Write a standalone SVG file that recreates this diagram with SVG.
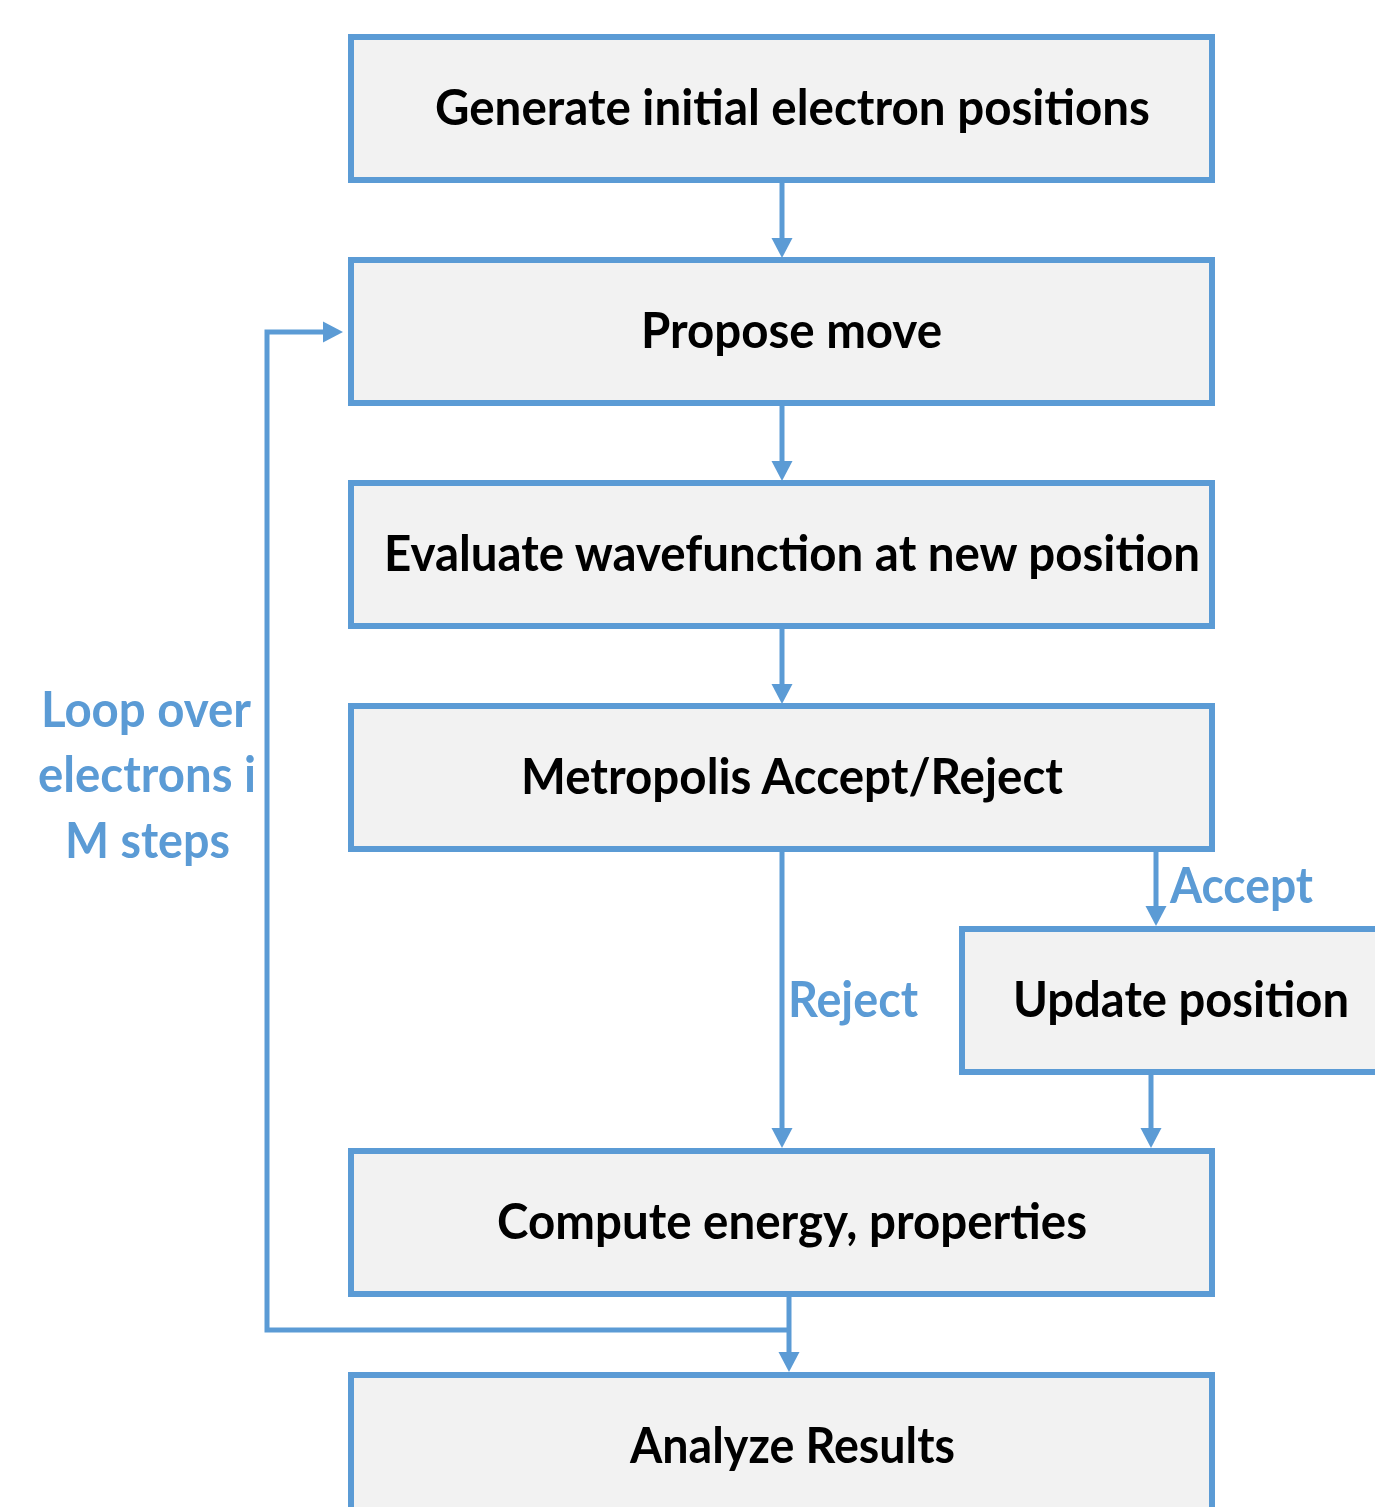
<svg xmlns="http://www.w3.org/2000/svg" width="1375" height="1507" viewBox="0 0 1375 1507">
<style>
.box{fill:#F2F2F2;stroke:#5B9BD5;stroke-width:6}
.lbl{font-family:Lato,"Open Sans","Liberation Sans",sans-serif;font-weight:bold;font-size:50px;fill:#000}
.blue{font-family:Lato,"Open Sans","Liberation Sans",sans-serif;font-weight:bold;font-size:50px;fill:#5B9BD5}
.ln{fill:none;stroke:#5B9BD5;stroke-width:5}
.ah{fill:#5B9BD5}
</style>
<rect width="1375" height="1507" fill="#FFFFFF"/>
<g id="connectors">
<line class="ln" x1="782" y1="183" x2="782" y2="240"/>
<polygon class="ah" points="771.5,238 792.5,238 782,258"/>
<line class="ln" x1="782" y1="406" x2="782" y2="463"/>
<polygon class="ah" points="771.5,461 792.5,461 782,481"/>
<line class="ln" x1="782" y1="629" x2="782" y2="686"/>
<polygon class="ah" points="771.5,684 792.5,684 782,704"/>
<line class="ln" x1="782" y1="852" x2="782" y2="1130"/>
<polygon class="ah" points="771.5,1128 792.5,1128 782,1148"/>
<line class="ln" x1="1156" y1="852" x2="1156" y2="908"/>
<polygon class="ah" points="1145.5,906 1166.5,906 1156,926"/>
<line class="ln" x1="1151" y1="1075" x2="1151" y2="1130"/>
<polygon class="ah" points="1140.5,1128 1161.5,1128 1151,1148"/>
<line class="ln" x1="789" y1="1297" x2="789" y2="1354"/>
<polygon class="ah" points="778.5,1352 799.5,1352 789,1372"/>
<path class="ln" d="M787 1330 H267 V332 H325"/>
<polygon class="ah" points="323,321.5 323,342.5 343,332"/>
<text class="blue" x="788" y="1017" textLength="130" lengthAdjust="spacingAndGlyphs">Reject</text>
<text class="blue" x="1170" y="903" textLength="143" lengthAdjust="spacingAndGlyphs">Accept</text>
<text class="blue" x="41" y="727" textLength="210" lengthAdjust="spacingAndGlyphs">Loop over</text>
<text class="blue" x="38" y="792" textLength="218" lengthAdjust="spacingAndGlyphs">electrons i</text>
<text class="blue" x="65" y="858" textLength="165" lengthAdjust="spacingAndGlyphs">M steps</text>
</g>
<g id="n1">
<rect class="box" x="351" y="37" width="861" height="143"/>
<text class="lbl" x="435" y="125" textLength="715" lengthAdjust="spacingAndGlyphs">Generate initial electron positions</text>
</g>
<g id="n2">
<rect class="box" x="351" y="260" width="861" height="143"/>
<text class="lbl" x="641" y="348" textLength="301" lengthAdjust="spacingAndGlyphs">Propose move</text>
</g>
<g id="n3">
<rect class="box" x="351" y="483" width="861" height="143"/>
<text class="lbl" x="384" y="571" textLength="816" lengthAdjust="spacingAndGlyphs">Evaluate wavefunction at new position</text>
</g>
<g id="n4">
<rect class="box" x="351" y="706" width="861" height="143"/>
<text class="lbl" x="521" y="794" textLength="542" lengthAdjust="spacingAndGlyphs">Metropolis Accept/Reject</text>
</g>
<g id="n5">
<rect class="box" x="962" y="929" width="430" height="143"/>
<text class="lbl" x="1013" y="1017" textLength="336" lengthAdjust="spacingAndGlyphs">Update position</text>
</g>
<g id="n6">
<rect class="box" x="351" y="1151" width="861" height="143"/>
<text class="lbl" x="497" y="1239" textLength="590" lengthAdjust="spacingAndGlyphs">Compute energy, properties</text>
</g>
<g id="n7">
<rect class="box" x="351" y="1375" width="861" height="160"/>
<text class="lbl" x="630" y="1463" textLength="325" lengthAdjust="spacingAndGlyphs">Analyze Results</text>
</g>
</svg>
